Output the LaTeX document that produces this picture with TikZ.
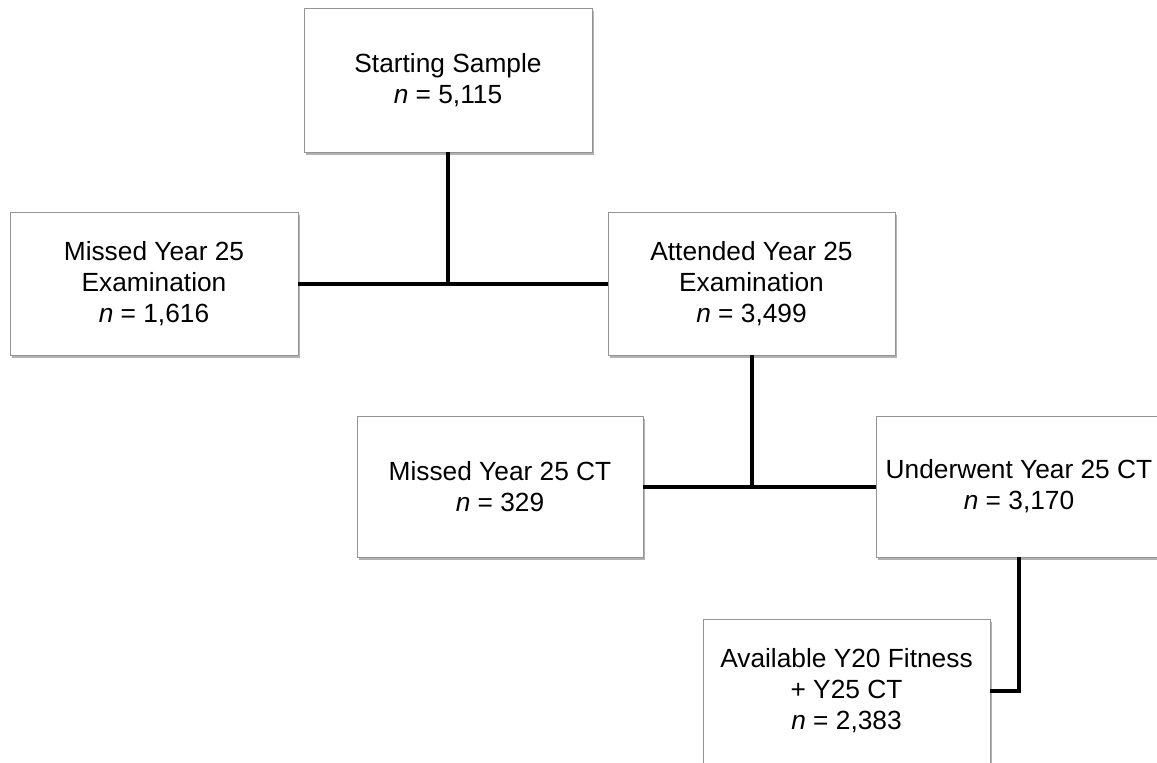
\documentclass[tikz,border=0pt]{standalone}
\usepackage{fontspec}
\setmainfont{Liberation Sans}
\usetikzlibrary{shadows}
\tikzset{
  box/.style={draw=black!42, line width=0.9pt, fill=white, inner sep=0pt,
    align=center, font=\fontsize{26.3}{31}\selectfont,
    drop shadow={shadow xshift=1.5pt, shadow yshift=-3pt, opacity=0.3, fill=black}},
  link/.style={line width=4pt, black}
}
\begin{document}
\begin{tikzpicture}[x=1pt,y=-1pt]
\useasboundingbox (0,0) rectangle (1157,763);
\node[box, minimum width=288pt, minimum height=144pt] (b1) at (448,80) {Starting Sample\\\textit{n} = 5,115};
\node[box, minimum width=288pt, minimum height=143pt] (b2) at (154,283.5) {Missed Year 25\\Examination\\\textit{n} = 1,616};
\node[box, minimum width=287pt, minimum height=143pt] (b3) at (751.5,283.5) {Attended Year 25\\Examination\\\textit{n} = 3,499};
\node[box, minimum width=286pt, minimum height=141pt] (b4) at (500,486.5) {Missed Year 25 CT\\\textit{n} = 329};
\node[box, minimum width=286pt, minimum height=141pt] (b5) at (1019,486.5) {Underwent Year 25 CT\\\textit{n} = 3,170};
\node[box, minimum width=287pt, minimum height=144pt] (b6) at (846.5,691) {Available Y20 Fitness\\+ Y25 CT\\\textit{n} = 2,383};
\coordinate (j1) at (b1.south |- b2.east);
\coordinate (j2) at (b3.south |- b4.east);
\draw[link] (b2.east) -- (b3.west);
\draw[link] (b1.south) -- (j1);
\draw[link] (b4.east) -- (b5.west);
\draw[link] (b3.south) -- (j2);
\draw[link] (b5.south) |- (b6.east);
\end{tikzpicture}
\end{document}
